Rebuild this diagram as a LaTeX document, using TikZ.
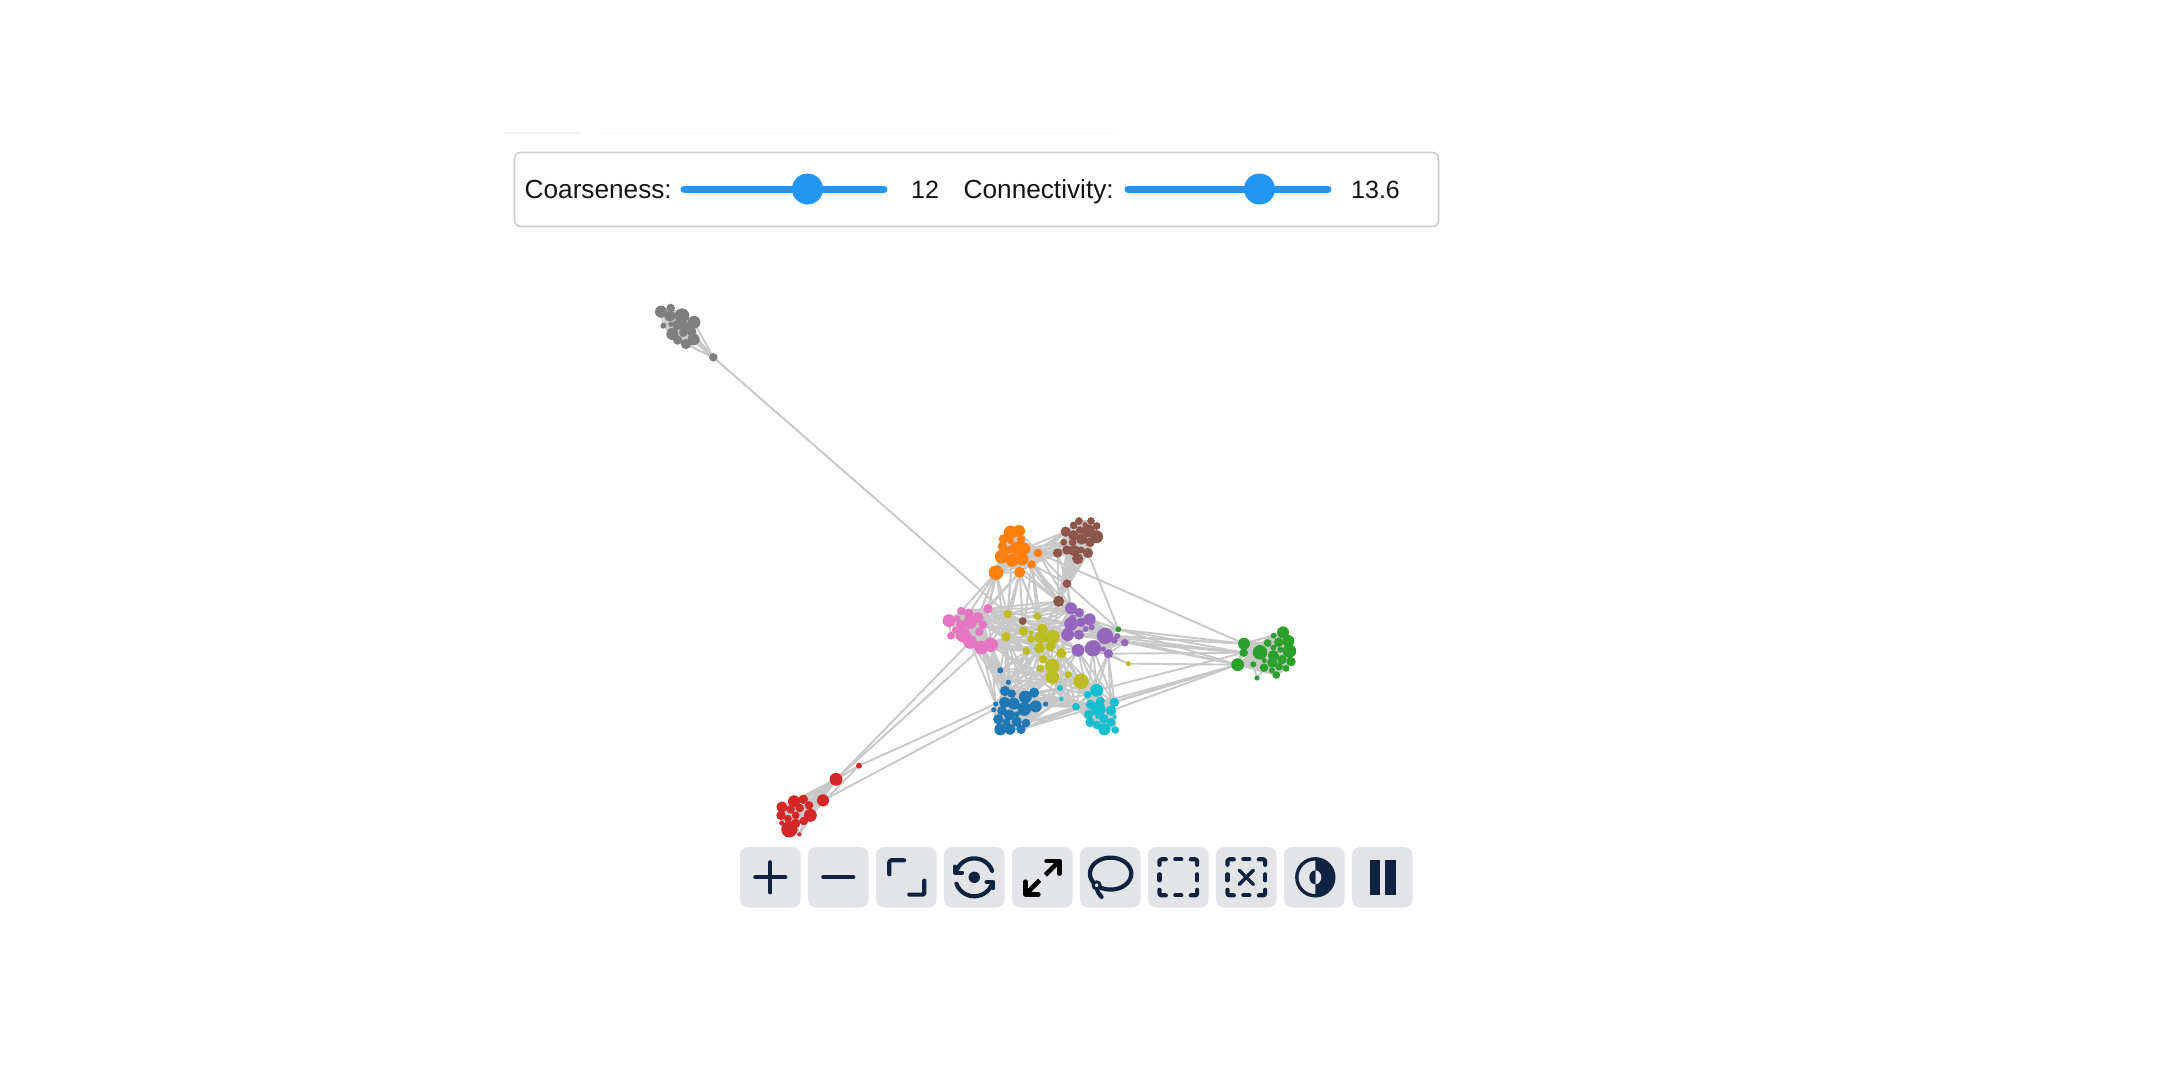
\documentclass[tikz,border=0pt]{standalone}
\usepackage{fontspec}
\setmainfont{Liberation Sans}
\usetikzlibrary{backgrounds}
\definecolor{thumbblue}{HTML}{2196F3}
\definecolor{btngray}{HTML}{E2E4E8}
\definecolor{iconnavy}{HTML}{0F2340}
\definecolor{linkgray}{HTML}{C8C8C8}
\definecolor{cOrange}{HTML}{FF7F0E}
\definecolor{cBrown}{HTML}{8C564B}
\definecolor{cPurple}{HTML}{9467BD}
\definecolor{cPink}{HTML}{E377C2}
\definecolor{cOlive}{HTML}{BCBD22}
\definecolor{cBlue}{HTML}{1F77B4}
\definecolor{cCyan}{HTML}{17BECF}
\definecolor{cGreen}{HTML}{2CA02C}
\definecolor{cGray}{HTML}{7F7F7F}
\definecolor{cRed}{HTML}{D62728}
\tikzset{
	dot/.style={circle,inner sep=0pt,outer sep=0pt,draw=none},
	link/.style={line width=1.9pt,color=linkgray},
	label/.style={anchor=base west,inner sep=0pt,font=\fontsize{26.2}{30}\selectfont,text=black!92},
	value/.style={anchor=base west,inner sep=0pt,font=\fontsize{25}{30}\selectfont,text=black!92},
	track/.style={line width=7pt,line cap=round,color=thumbblue},
	thumb/.style={circle,fill=thumbblue,inner sep=0pt,minimum size=31pt},
	btn/.style={rectangle,rounded corners=8pt,fill=btngray,inner sep=0pt,minimum size=60.5pt},
	icon/.style={line width=4.2pt,line cap=round,line join=round,color=iconnavy},
	corner/.style={icon,rounded corners=2pt}
}
% nodes of one community: prefix, colour, origin of the crop, x/y/r
\newcommand{\community}[5]{
	\begin{scope}[shift={(#3,#4)},x=0.33333pt,y=-0.33333pt]
		\foreach \nx/\ny/\nr [count=\ni] in {#5} {
			\pgfmathsetmacro{\nd}{\nr*0.86}
			\node[dot,fill=#2,minimum size=\nd pt] (#1\ni) at (\nx,\ny) {};
		}
	\end{scope}
}
\newcommand{\linkgroups}[4]{
	\foreach \a in {#2} \foreach \b in {#4} \draw[link] (#1\a) -- (#3\b);
}
\newcommand{\linkinside}[2]{
	\foreach \a in {#2} \foreach \b in {#2} {
		\ifnum\a<\b \draw[link] (#1\a) -- (#1\b); \fi
	}
}
\newcommand{\dashedbox}{
	\draw[corner] (-18.8,-12.5) -- (-18.8,-18) -- (-12.5,-18);
	\draw[corner] (12.5,-18) -- (18.8,-18) -- (18.8,-12.5);
	\draw[corner] (-18.8,12.5) -- (-18.8,18) -- (-12.5,18);
	\draw[corner] (12.5,18) -- (18.8,18) -- (18.8,12.5);
	\draw[icon] (-3,-18) -- (3,-18);
	\draw[icon] (-3,18) -- (3,18);
	\draw[icon] (-18.8,-3) -- (-18.8,3);
	\draw[icon] (18.8,-3) -- (18.8,3);
}
\begin{document}
\begin{tikzpicture}[x=1pt,y=-1pt]
	\useasboundingbox (0,0) rectangle (2160,1080);

	% faint rule above the panel
	\coordinate (ruleA) at (505,133);
	\coordinate (ruleB) at (580,133);
	\coordinate (ruleC) at (600,133.5);
	\coordinate (ruleD) at (1118,133.5);
	\draw[line width=1.5pt,color=black!5] (ruleA) -- (ruleB);
	\draw[line width=1pt,color=black!2] (ruleC) -- (ruleD);

	% sliders
	\node[rectangle,rounded corners=6pt,draw=black!20,line width=1.6pt,minimum width=924pt,minimum height=74pt] (panel) at (976.5,189.5) {};
	\node[label] (coarselabel) at (524.5,198) {Coarseness:};
	\node[label] (connectlabel) at (963.5,198) {Connectivity:};
	\node[value] (coarsevalue) at (911,198) {12};
	\node[value] (connectvalue) at (1351,198) {13.6};
	\coordinate (coarseA) at (684,189);
	\coordinate (coarseB) at (884,189);
	\coordinate (connectA) at (1128,189);
	\coordinate (connectB) at (1328,189);
	\draw[track] (coarseA) -- (coarseB);
	\draw[track] (connectA) -- (connectB);
	\node[thumb] (coarsethumb) at (807.5,189) {};
	\node[thumb] (connectthumb) at (1259.5,189) {};

	% graph
	\community{o}{cOrange}{920}{500}{272/97/16,297/93/14,250/117/11,271/122/8,303/119/10,247/139/11,288/145/15,313/146/14,267/150/9,245/170/16,276/181/15,306/177/15,354/159/10,335/193/10,299/217/13,228/218/17}
	\community{n}{cBrown}{920}{500}{477/63/9,513/63/9,461/76/9,495/74/6,530/78/9,437/95/12,480/90/9,505/93/15,460/106/12,530/110/15,431/127/8,458/127/9,485/117/13,510/127/11,441/150/11,463/152/13,413/159/11,504/159/12,473/176/13,483/150/8,441/251/10,416/304/13,308/363/9}
	\community{u}{cPurple}{920}{500}{453/325/14,478/338/11,458/354/8,509/358/14,453/372/16,483/367/11,497/387/7,515/382/7,443/404/15,477/404/12,555/408/19,592/408/7,583/421/8,614/428/9,519/445/19,474/451/15,550/447/6,565/461/11}
	\community{p}{cPink}{920}{500}{124/333/10,204/326/11,146/341/12,87/362/15,112/356/8,174/353/13,150/367/16,122/374/11,189/374/10,106/390/8,178/395/10,93/407/9,130/405/17,150/426/16,184/443/16,212/434/17,143/412/10}
	\community{y}{cOlive}{920}{500}{263/342/10,352/349/9,310/394/11,367/387/13,333/398/5,333/417/9,258/410/11,362/413/14,397/411/17,392/439/12,359/444/13,319/453/9,424/460/12,369/478/10,397/498/17,361/505/9,397/531/16,445/524/8,483/544/18,625/491/6}
	\community{b}{cBlue}{920}{500}{241/511/7,265/547/6,255/573/12,275/581/10,342/578/12,316/591/15,254/607/13,281/611/14,227/612/6,221/629/6,377/612/6,347/619/14,313/627/16,246/632/11,268/645/13,290/643/7,235/658/12,259/667/9,290/665/12,318/669/10,241/688/14,270/688/13,303/688/11}
	\community{c}{cCyan}{920}{500}{420/564/7,424/597/5,530/571/15,503/584/9,541/603/10,583/607/11,511/613/11,468/620/9,535/627/17,573/632/12,506/643/11,551/656/11,584/651/5,510/667/11,573/667/10,531/675/10,553/688/14,586/690/9,532/650/5}
	\community{s}{cGreen}{920}{500}{595/388/7}
	\community{g}{cGreen}{1200}{610}{132/101/14,131/128/10,113/164/15,180/127/17,160/163/7,171/204/6,192/173/10,221/77/7,249/67/14,203/99/9,236/97/11,265/93/14,268/123/16,241/119/7,220/113/7,220/137/13,193/152/6,217/158/12,246/149/11,273/155/11,237/170/9,258/175/8,216/181/7,229/195/9}
	\community{k}{cGray}{640}{290}{63/65/14,92/54/10,90/78/13,126/77/17,70/107/7,93/103/6,112/105/12,135/108/12,162/97/15,97/132/14,130/128/10,113/150/11,155/125/11,138/162/12,161/148/14,220/202/10}
	\community{r}{cRed}{760}{750}{66/171/13,102/154/14,130/148/11,147/166/10,63/196/11,92/178/10,119/174/10,84/206/9,107/196/9,65/219/6,151/196/15,131/213/10,107/220/11,88/238/19,118/253/5,189/151/14,228/88/15,297/47/7,100/230/8}

	\begin{pgfonlayer}{background}
		\linkinside{o}{1,...,16}
		\linkinside{n}{1,...,20}
		\linkinside{u}{1,...,13}
		\linkinside{u}{11,12,13,14,15,16,17,18}
		\linkinside{p}{1,...,17}
		\linkinside{y}{4,9,11,13,15,17,19}
		\linkinside{b}{3,...,23}
		\linkinside{c}{3,...,19}
		\linkinside{g}{1,2,3,4,5,7,8,9,10,11,12,13,14,15,16,17,18,19,20,21,22,23,24}
		\linkinside{k}{1,...,15}
		\linkinside{r}{1,...,14}
		\linkgroups{g}{6}{g}{5,7}
		\linkgroups{k}{16}{k}{8,9,11,12,13,14,15}
		\linkgroups{k}{16}{y}{1}
		\linkgroups{r}{16,17}{r}{1,...,14}
		\linkgroups{r}{15}{r}{12,13,14,17}
		\linkgroups{r}{18}{r}{3,17,11}
		\linkgroups{r}{17}{p}{14,15}
		\linkgroups{r}{18}{b}{9}
		\linkgroups{r}{16}{b}{10}
		\linkgroups{n}{9,12,13,14,15,16,17,18,19,20}{n}{21,22}
		\linkgroups{n}{21}{n}{22}
		\linkgroups{o}{8,12,13,14}{n}{6,11,15,17}
		\linkgroups{o}{8,11,12,14,15}{n}{22}
		\linkgroups{o}{13,14}{n}{21}
		\linkgroups{o}{16}{p}{1,2,3,6}
		\linkgroups{o}{10,15}{p}{2,6}
		\linkgroups{o}{16,15,11}{y}{1,7}
		\linkgroups{o}{15,14}{y}{2,3,4}
		\linkgroups{o}{14}{u}{1,3}
		\linkgroups{o}{13}{u}{1}
		\linkgroups{o}{13}{g}{1}
		\linkgroups{n}{18,21}{s}{1}
		\linkgroups{n}{21,22}{u}{1,3,5}
		\linkgroups{n}{22}{y}{1,2,4,8,9}
		\linkgroups{n}{22}{p}{2}
		\linkgroups{n}{23}{n}{22}
		\linkgroups{n}{23}{y}{1,3,4}
		\linkgroups{p}{2,6,9,15,16}{y}{1,3,7,8,11,12}
		\linkgroups{p}{2,6,16}{u}{1,5,9}
		\linkgroups{p}{14,15,16}{b}{1,3,9}
		\linkgroups{p}{15,16}{b}{2,4,7}
		\linkgroups{p}{16}{c}{1,8}
		\linkgroups{y}{7,12,11,15,17}{b}{1,2,3,4,5,6}
		\linkgroups{y}{13,15,17,18,19}{c}{1,2,3,4,8}
		\linkgroups{y}{2,4,9,10,13}{u}{1,5,9,16}
		\linkgroups{y}{1,3,7,12}{y}{4,8,11,14}
		\linkgroups{b}{1,2}{b}{3,4,7}
		\linkgroups{c}{1,2}{c}{4,8}
		\linkgroups{u}{15,16,18}{c}{3,4,6}
		\linkgroups{u}{18}{c}{10}
		\linkgroups{u}{9,16}{b}{5,11}
		\linkgroups{b}{5,6,11,12,20,23}{c}{1,2,7,8}
		\linkgroups{u}{4,8,10,11}{s}{1}
		\linkgroups{s}{1}{g}{1,2,3}
		\linkgroups{u}{11}{g}{1,2,3}
		\linkgroups{u}{12}{g}{1}
		\linkgroups{u}{13}{g}{2,3}
		\linkgroups{u}{14,18}{g}{2}
		\linkgroups{y}{20}{g}{3}
		\linkgroups{y}{20}{u}{15,18}
		\linkgroups{g}{3}{b}{20,23}
		\linkgroups{g}{3}{c}{6,10}
		\linkgroups{g}{2}{c}{3}
	\end{pgfonlayer}

	% toolbar
	\foreach \bx [count=\bi] in {770.3,838.3,906.3,974.3,1042.3,1110.3,1178.3,1246.3,1314.3,1382.3}
		\node[btn] (btn\bi) at (\bx,877.3) {};

	\begin{scope}[shift={(btn1)}]
		\draw[icon] (-15,0) -- (15,0);
		\draw[icon] (0,-15) -- (0,15);
	\end{scope}
	\begin{scope}[shift={(btn2)}]
		\draw[icon] (-15,0) -- (15,0);
	\end{scope}
	\begin{scope}[shift={(btn3)}]
		\draw[corner] (-17,-3) -- (-17,-17) -- (-2.3,-17);
		\draw[corner] (18,3.3) -- (18,17.3) -- (3,17.3);
	\end{scope}
	\begin{scope}[shift={(btn4)}]
		\fill[iconnavy] (0,0) circle[radius=5.7pt];
		\draw[icon] (-17.2,-8) arc[start angle=155,end angle=20,radius=19pt];
		\draw[icon] (17.2,8) arc[start angle=-25,end angle=-160,radius=19pt];
		\draw[icon] (-19,-10.7) -- (-19,-4.7) -- (-12.3,-4.7);
		\draw[icon] (19,10.7) -- (19,4.7) -- (12.3,4.7);
	\end{scope}
	\begin{scope}[shift={(btn5)}]
		\draw[icon,color=black,line width=4.6pt,line cap=butt] (17,-16.3) -- (3,-2.3);
		\draw[icon,color=black,line width=4.6pt,line cap=butt] (-16.7,17) -- (-2.7,3);
		\draw[icon,color=black,line width=4.6pt] (4.3,-16.3) -- (17,-16.3) -- (17,-3.7);
		\draw[icon,color=black,line width=4.6pt] (-16.7,4.3) -- (-16.7,17) -- (-4,17);
	\end{scope}
	\begin{scope}[shift={(btn6)}]
		\draw[icon] (0.3,-3.7) circle[x radius=20.7pt,y radius=16pt];
		\draw[icon] (-13.5,11) .. controls (-12.5,15) and (-11,17.5) .. (-8.7,19.7);
		\draw[icon,fill=btngray,line width=3pt] (-13.7,8) circle[radius=3.5pt];
	\end{scope}
	\begin{scope}[shift={(btn7)}]
		\dashedbox
	\end{scope}
	\begin{scope}[shift={(btn8)}]
		\dashedbox
		\draw[icon,line width=3.4pt] (-7,-7) -- (7,7);
		\draw[icon,line width=3.4pt] (-7,7) -- (7,-7);
	\end{scope}
	\begin{scope}[shift={(btn9)}]
		\fill[iconnavy] (1,-19) arc[start angle=90,end angle=-90,radius=19pt] -- cycle;
		\draw[icon,line width=3.4pt] (1,0) circle[radius=18.5pt];
		\fill[btngray] (1,-7) arc[start angle=90,end angle=-90,x radius=6pt,y radius=7pt] -- cycle;
		\fill[iconnavy] (1,-7) arc[start angle=90,end angle=270,x radius=6pt,y radius=7pt] -- cycle;
	\end{scope}
	\begin{scope}[shift={(btn10)}]
		\fill[iconnavy] (-12.8,-17.2) rectangle (-2.2,17.2);
		\fill[iconnavy] (2.5,-17.2) rectangle (13.2,17.2);
	\end{scope}
\end{tikzpicture}
\end{document}
